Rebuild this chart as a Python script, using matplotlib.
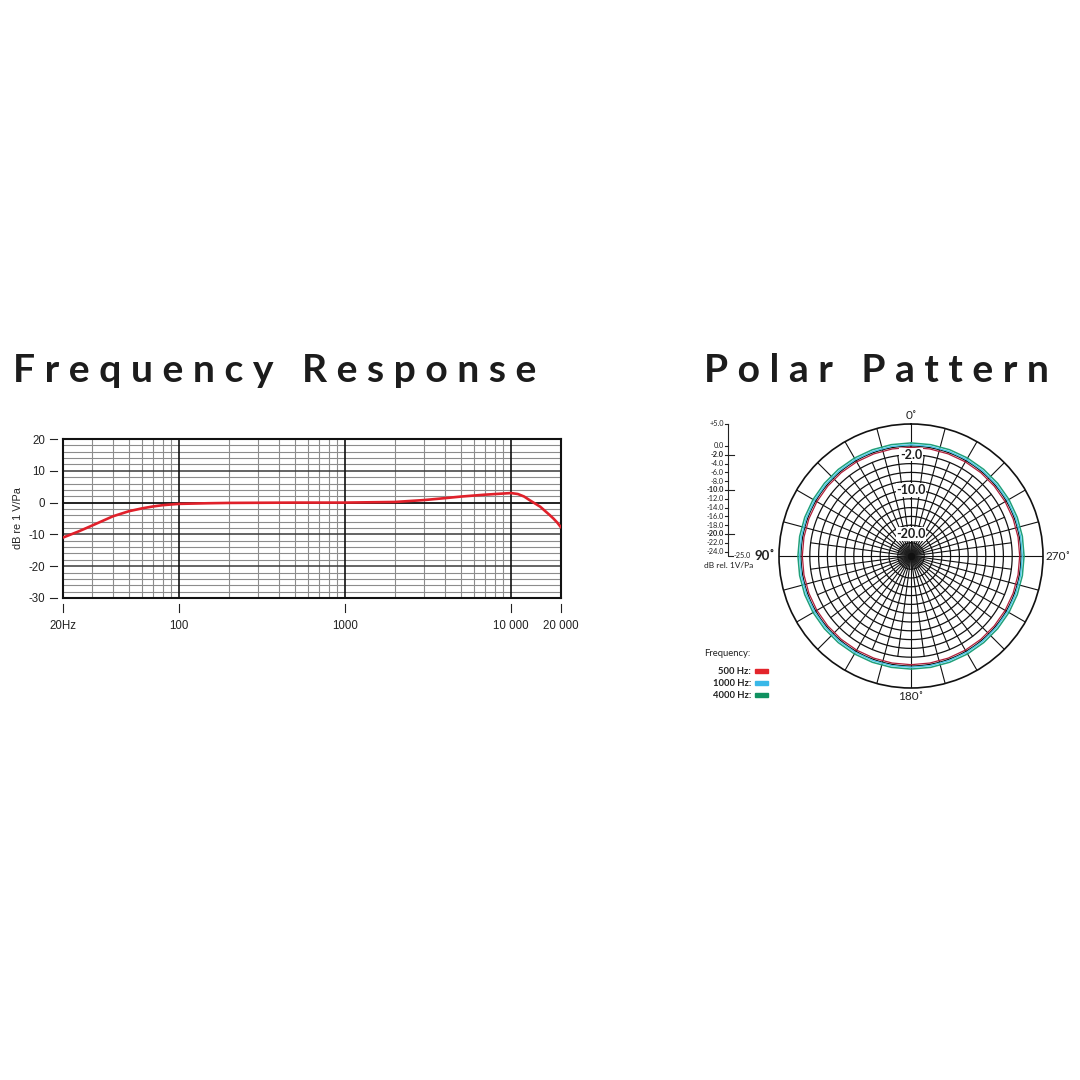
import numpy as np
import matplotlib.pyplot as plt
from matplotlib.patches import Rectangle
from matplotlib.ticker import NullLocator

plt.rcParams['axes.unicode_minus'] = False

# frequency response
freqs = [20, 25, 30, 40, 50, 60, 70, 80, 100, 150, 200, 500, 1000, 2000, 3000,
         4000, 5000, 7000, 10000, 11000, 12000, 13000, 15000, 17000, 18000, 19000, 20000]
resp_db = [-11.0, -9.0, -7.2, -4.3, -2.7, -1.8, -1.2, -0.8, -0.4, -0.2, -0.1, 0.0, 0.0, 0.2, 0.8,
           1.4, 1.9, 2.5, 3.0, 2.7, 1.9, 0.7, -1.3, -3.8, -5.0, -6.3, -7.8]
freq_ticks = [20, 100, 1000, 10000, 20000]
freq_labels = ['20Hz', '100', '1000', '10 000', '20 000']
db_ticks = [20, 10, 0, -10, -20, -30]

# polar pattern, dB rel. 1V/Pa every 10 degrees
polar_deg = [0, 10, 20, 30, 40, 50, 60, 70, 80, 90, 100, 110, 120, 130, 140, 150, 160, 170, 180,
             190, 200, 210, 220, 230, 240, 250, 260, 270, 280, 290, 300, 310, 320, 330, 340, 350, 360]
pol_500 = [-0.3, -0.3, -0.3, -0.3, -0.3, -0.3, -0.3, -0.3, -0.3, -0.3, -0.3, -0.3, -0.3,
           -0.3, -0.3, -0.3, -0.3, -0.3, -0.3, -0.3, -0.3, -0.3, -0.3, -0.3, -0.3, -0.3,
           -0.3, -0.3, -0.3, -0.3, -0.3, -0.3, -0.3, -0.3, -0.3, -0.3, -0.3]
pol_1000 = [0.3, 0.3, 0.3, 0.3, 0.3, 0.3, 0.3, 0.3, 0.3, 0.3, 0.3, 0.3, 0.3,
            0.3, 0.3, 0.3, 0.3, 0.3, 0.3, 0.3, 0.3, 0.3, 0.3, 0.3, 0.3, 0.3,
            0.3, 0.3, 0.3, 0.3, 0.3, 0.3, 0.3, 0.3, 0.3, 0.3, 0.3]
pol_4000 = [0.7, 0.7, 0.7, 0.7, 0.7, 0.7, 0.7, 0.7, 0.7, 0.7, 0.7, 0.7, 0.7,
            0.7, 0.7, 0.7, 0.7, 0.7, 0.7, 0.7, 0.7, 0.7, 0.7, 0.7, 0.7, 0.7,
            0.7, 0.7, 0.7, 0.7, 0.7, 0.7, 0.7, 0.7, 0.7, 0.7, 0.7]
pol_names = ['500 Hz:', '1000 Hz:', '4000 Hz:']
pol_colors = ['#b01e3a', '#45c6e6', '#20a07a']
swatch_colors = ['#e3242b', '#39b8e8', '#109160']

scale_vals = [5, 0, -2, -4, -6, -8, -10, -12, -14, -16, -18, -20, -22, -24]
scale_bold = [-2, -10, -20]
polar_rings = [0, -2, -4, -6, -8, -10, -12, -14, -16, -18, -20, -22, -24]
ring_labels = [-2, -10, -20]

W = 1080


def fx(x):
    return x / W


def fy(y):
    return 1 - y / W


fig = plt.figure(figsize=(10.8, 10.8), dpi=100)
fig.patch.set_facecolor('white')

# titles
fig.text(fx(13), fy(382), 'F r e q u e n c y   R e s p o n s e', fontsize=28.2,
         weight='bold', family='Lato', color='#1c1c1c', va='baseline')
fig.text(fx(704), fy(382), 'P o l a r   P a t t e r n', fontsize=28.2,
         weight='bold', family='Lato', color='#1c1c1c', va='baseline')

# ---- frequency response ----
ax = fig.add_axes([fx(63), fy(598), 498 / W, 159 / W])
ax.set_xscale('log')
ax.set_xlim(20, 20000)
ax.set_ylim(-30, 20)
for dec in [10, 100, 1000]:
    for m in range(2, 10):
        f = dec * m
        if 20 < f < 20000 and f not in (100, 1000, 10000):
            ax.axvline(f, color='#8c8c8c', lw=0.8, zorder=1)
for f in [100, 1000, 10000]:
    ax.axvline(f, color='#111111', lw=1.2, zorder=2)
for y in range(-28, 20, 2):
    if y == 0:
        ax.axhline(y, color='#111111', lw=1.3, zorder=2)
    elif y % 10 == 0:
        ax.axhline(y, color='#3a3a3a', lw=1.1, zorder=1)
    else:
        ax.axhline(y, color='#8c8c8c', lw=0.8, zorder=1)
ax.plot(freqs, resp_db, color='#e0202a', lw=1.9, zorder=3,
        solid_capstyle='round', solid_joinstyle='round')
for s in ax.spines.values():
    s.set_linewidth(1.5)
    s.set_color('#111111')
ax.xaxis.set_minor_locator(NullLocator())
ax.set_xticks(freq_ticks, freq_labels)
ax.set_yticks(db_ticks)
ax.tick_params(axis='both', length=0, labelsize=8.3, labelcolor='#222222')
for lab in ax.get_xticklabels() + ax.get_yticklabels():
    lab.set_family('Liberation Sans')
ax.tick_params(axis='y', pad=13)
ax.tick_params(axis='x', pad=16)
for y in db_ticks:
    ax.plot([-0.027, -0.012], [y, y], transform=ax.get_yaxis_transform(),
            color='#222222', lw=0.8, clip_on=False)
for f in freq_ticks:
    ax.plot([f, f], [-0.035, -0.09], transform=ax.get_xaxis_transform(),
            color='#222222', lw=0.8, clip_on=False)
ax.set_ylabel('dB re 1 V/Pa', fontsize=7.8, color='#222222', labelpad=4,
              family='Liberation Sans')

# ---- polar pattern ----
axp = fig.add_axes([fx(779), fy(688), 264 / W, 264 / W], projection='polar')
axp.set_theta_zero_location('N')
axp.set_theta_direction(1)
axp.set_rlim(-25, 5)
axp.grid(False)
axp.set_xticks([])
axp.set_yticks([])
axp.spines['polar'].set_linewidth(1.2)
axp.spines['polar'].set_color('#111111')

theta = np.linspace(0, 2 * np.pi, 721)
for r in polar_rings:
    axp.plot(theta, np.full_like(theta, r), color='#111111', lw=0.9, zorder=2)
for a in np.arange(0, 360, 15):
    t = np.deg2rad(a)
    axp.plot([t, t], [-25, 5], color='#111111', lw=0.8, zorder=2)
for a in np.arange(7.5, 360, 15):
    t = np.deg2rad(a)
    axp.plot([t, t], [-25, -2], color='#111111', lw=0.8, zorder=2)
for a in np.arange(0, 360, 5):
    t = np.deg2rad(a)
    axp.plot([t, t], [-25, -22.3], color='#222222', lw=0.35, zorder=2)
axp.plot([0], [-25], 'o', ms=4.5, color='#111111', zorder=4)

tdeg = np.deg2rad(polar_deg)
for vals, c, w in zip([pol_4000, pol_1000, pol_500], pol_colors[::-1], [1.1, 1.0, 0.9]):
    axp.plot(tdeg, vals, color=c, lw=w, zorder=3)

for r in ring_labels:
    axp.text(0, r, '%.1f' % r, ha='center', va='center', fontsize=9, weight='bold',
             family='Lato', color='#1c1c1c', zorder=5,
             bbox=dict(boxstyle='square,pad=0.05', fc='white', ec='none'))

axp.text(0.5, 1.034, '0˚', transform=axp.transAxes, ha='center', va='center',
         fontsize=8.5, family='Lato', color='#222222')
axp.text(0.5, -0.034, '180˚', transform=axp.transAxes, ha='center', va='center',
         fontsize=8.5, family='Lato', color='#222222')
axp.text(-0.015, 0.5, '90˚', transform=axp.transAxes, ha='right', va='center',
         fontsize=9.5, weight='bold', family='Lato', color='#222222')
axp.text(1.011, 0.5, '270˚', transform=axp.transAxes, ha='left', va='center',
         fontsize=8.5, family='Lato', color='#222222')

# dB scale beside the polar chart
axs = fig.add_axes([fx(690), fy(556), 60 / W, 132 / W])
axs.set_xlim(690, 750)
axs.set_ylim(-25, 5)
axs.axis('off')
axs.plot([728, 728, 733], [5, -25, -25], color='#222222', lw=0.8, clip_on=False)
for v in scale_vals:
    bold = v in scale_bold
    if bold:
        axs.plot([725, 734], [v, v], color='#222222', lw=0.8, clip_on=False)
    else:
        axs.plot([725, 728], [v, v], color='#222222', lw=0.8, clip_on=False)
    lab = '+%.1f' % v if v > 0 else '%.1f' % v
    axs.text(724, v, lab, ha='right', va='center', fontsize=5.3,
             weight='bold' if bold else 'normal', family='Lato', color='#222222')
axs.text(734, -25, '-25.0', ha='left', va='center', fontsize=5.3, family='Lato',
         color='#222222')
fig.text(fx(704), fy(566), 'dB rel. 1V/Pa', ha='left', va='center', fontsize=6,
         family='Lato', color='#222222')

# legend
fig.text(fx(704), fy(653), 'Frequency:', ha='left', va='center', fontsize=6.8,
         family='Lato', color='#222222')
for i, (name, c) in enumerate(zip(pol_names, swatch_colors)):
    yy = 671 + 12 * i
    fig.text(fx(751), fy(yy), name, ha='right', va='center', fontsize=6.8,
             weight='bold', family='Lato', color='#222222')
    fig.add_artist(Rectangle((fx(755), fy(yy + 2)), 13 / W, 4 / W,
                             transform=fig.transFigure, color=c))

fig.savefig('out.png', dpi=100)
